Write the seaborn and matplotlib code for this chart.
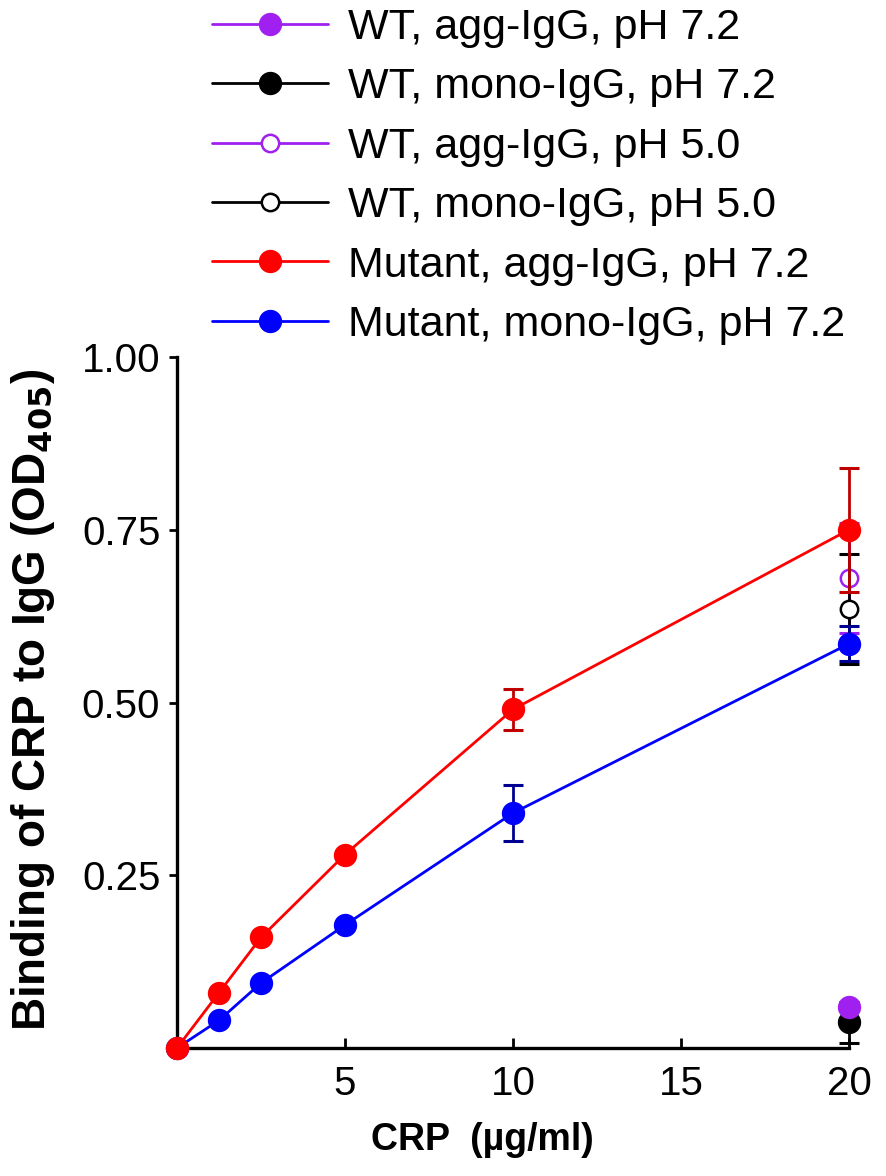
import matplotlib
matplotlib.use("Agg")
import matplotlib.pyplot as plt
import seaborn as sns
import pandas as pd

# ---- data ----
conc = [0, 1.25, 2.5, 5, 10, 20]
mut_agg = [0.0, 0.08, 0.16, 0.28, 0.49, 0.75]
mut_agg_err = [0.0, 0.005, 0.005, 0.005, 0.03, 0.09]
mut_mono = [0.0, 0.04, 0.094, 0.178, 0.34, 0.585]
mut_mono_err = [0.0, 0.004, 0.004, 0.004, 0.04, 0.025]

wt_conc = [20]
wt_agg72 = [0.06]
wt_agg72_err = [0.005]
wt_mono72 = [0.037]
wt_mono72_err = [0.03]
wt_agg50 = [0.68]
wt_agg50_err = [0.08]
wt_mono50 = [0.635]
wt_mono50_err = [0.08]

labels = ["WT, agg-IgG, pH 7.2", "WT, mono-IgG, pH 7.2", "WT, agg-IgG, pH 5.0",
          "WT, mono-IgG, pH 5.0", "Mutant, agg-IgG, pH 7.2", "Mutant, mono-IgG, pH 7.2"]
xticks = [5, 10, 15, 20]
yticks = [0.25, 0.50, 0.75, 1.00]

sns.set_style("ticks")
plt.rcParams['font.family'] = ['Liberation Sans', 'DejaVu Sans']
plt.rcParams['text.color'] = 'black'
plt.rcParams['axes.labelcolor'] = 'black'
plt.rcParams['xtick.color'] = 'black'
plt.rcParams['ytick.color'] = 'black'
plt.rcParams['axes.edgecolor'] = 'black'

fig = plt.figure(figsize=(8.86, 11.76), dpi=100)
ax = fig.add_axes([177/886, 1 - 1048/1176, (849-177)/886, (1048-357)/1176])

purple = "#a020f0"
series = [
    (wt_conc, wt_agg72, wt_agg72_err, purple, purple, purple, 15, 5),
    (wt_conc, wt_mono72, wt_mono72_err, "black", "black", "black", 15, 4),
    (wt_conc, wt_agg50, wt_agg50_err, purple, "white", purple, 12.5, 3),
    (wt_conc, wt_mono50, wt_mono50_err, "black", "white", "black", 12.5, 3.5),
    (conc, mut_agg, mut_agg_err, "#ff0000", "#ff0000", "#c00000", 15, 7),
    (conc, mut_mono, mut_mono_err, "#0000ff", "#0000ff", "#000090", 15, 6),
]

for (xs, ys, es, col, fc, ecol, ms, z), lab in zip(series, labels):
    ax.errorbar(xs, ys, yerr=es, fmt="none", ecolor=ecol, elinewidth=2,
                capsize=7, capthick=2.2, zorder=z - 0.5, clip_on=False)
    df = pd.DataFrame({"x": xs, "y": ys})
    sns.lineplot(data=df, x="x", y="y", ax=ax, color=col, marker="o",
                 markersize=ms, markerfacecolor=fc, markeredgecolor=col,
                 markeredgewidth=1.8, linewidth=2.0, label=lab, zorder=z,
                 clip_on=False, legend=False)

handles, labs = ax.get_legend_handles_labels()
fig.legend(handles, labs, loc="upper left", bbox_to_anchor=(212/886, 1 - 8/1176),
           frameon=False, fontsize=31, handlelength=2.7, handletextpad=0.45,
           labelspacing=0.45, borderpad=0, borderaxespad=0)

ax.set_xlim(0, 20)
ax.set_ylim(0, 1.0)
ax.set_xticks(xticks)
ax.set_xticklabels([str(t) for t in xticks])
ax.set_yticks(yticks)
ax.set_yticklabels([f"{t:.2f}" for t in yticks])
sns.despine(ax=ax)
for s in ["left", "bottom"]:
    ax.spines[s].set_linewidth(2.4)
    ax.spines[s].set_color("black")
ax.tick_params(axis="x", direction="in", length=7, width=2, labelsize=29, pad=12,
               colors="black")
ax.tick_params(axis="y", direction="out", length=6, width=2, labelsize=29, pad=6,
               colors="black")

ax.set_xlabel("CRP  (µg/ml)", fontsize=27, fontweight="bold", color="black")
ax.set_ylabel("Binding of CRP to IgG (OD$_{\\mathbf{405}}$)", fontsize=33,
              fontweight="bold", color="black")
ax.xaxis.set_label_coords((482-177)/672, (1048-1140)/691)
ax.xaxis.label.set_va("center")
ax.yaxis.set_label_coords((33-177)/672, (1048-700)/691)
ax.yaxis.label.set_va("center")

fig.savefig("out.png", dpi=100)
